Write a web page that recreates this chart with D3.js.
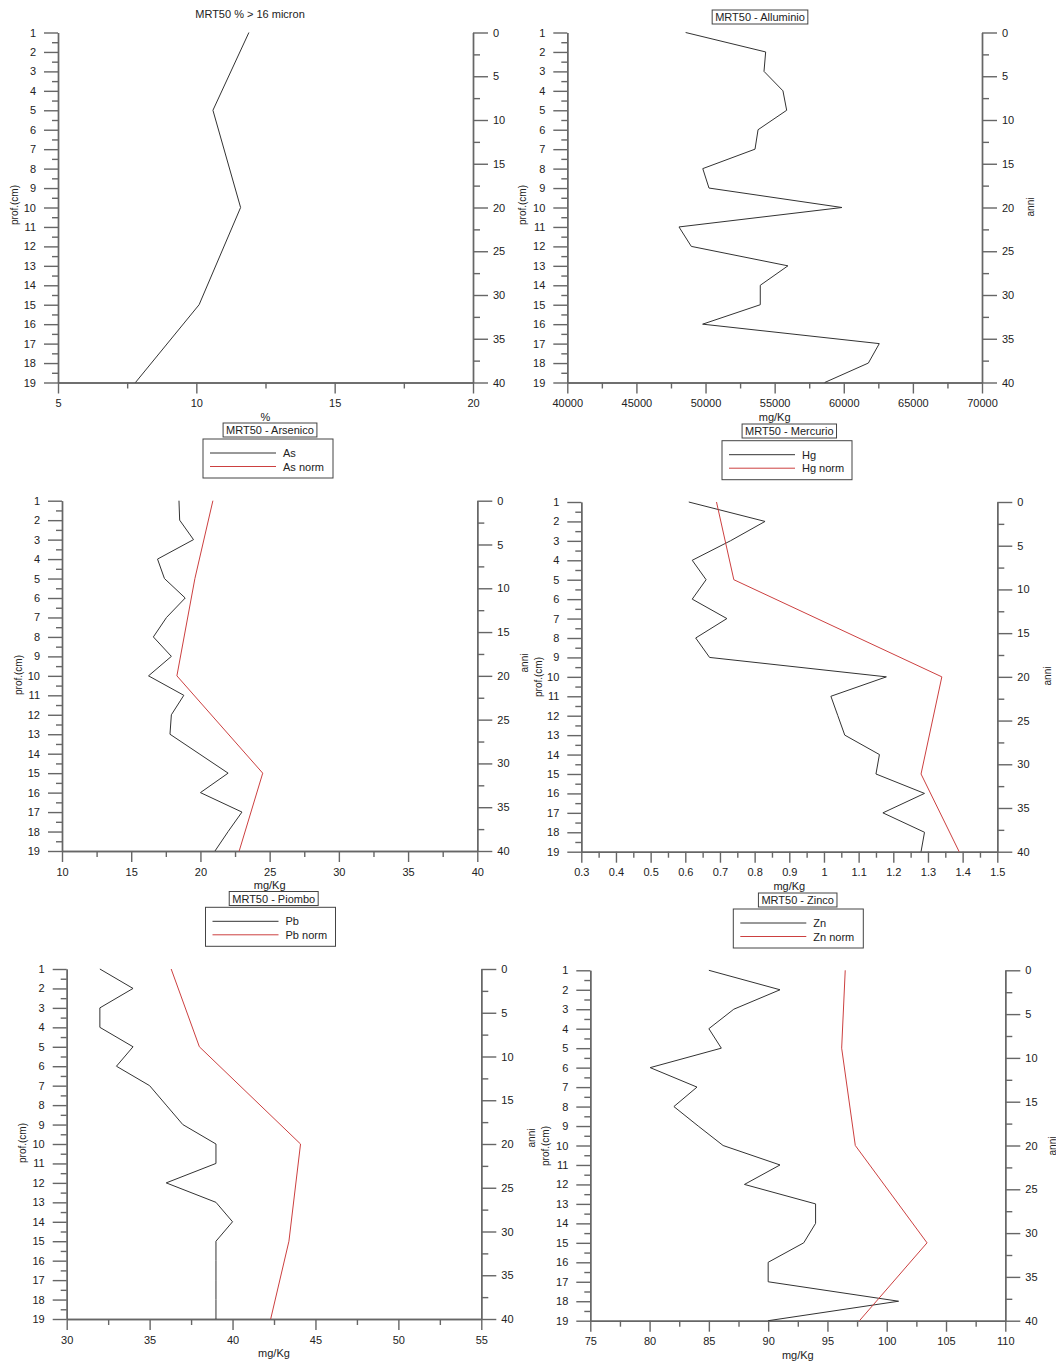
<!DOCTYPE html>
<html><head><meta charset="utf-8">
<script src="https://cdn.jsdelivr.net/npm/d3@7"></script>
<style>body{margin:0;background:#fff}svg{display:block}text{font-family:"Liberation Sans",Arial,sans-serif;fill:#222}</style>
</head><body><svg id="c" width="1056" height="1363"></svg>
<script>
// ---------- data ----------
const depths = [1,2,3,4,5,6,7,8,9,10,11,12,13,14,15,16,17,18,19];
const normDepths = [1,5,10,15,19];
const anniTicks = [0,5,10,15,20,25,30,35,40];

const grainSize = [11.9,10.6,11.6,10.1,7.8];            // % > 16 micron at normDepths
const alluminio = [48560,54350,54230,55600,55870,53800,53580,49800,50250,59870,48080,48970,55960,53960,53960,49790,62570,61780,58620];
const arsenico = [18.45,18.5,19.5,16.9,17.4,18.9,17.55,16.6,17.9,16.25,18.8,17.9,17.8,19.9,22.0,20.0,23.0,22.0,21.05];
const arsenicoNorm = [20.9,19.6,18.3,24.5,22.8];
const mercurio = [0.61,0.83,0.73,0.62,0.66,0.62,0.72,0.63,0.67,1.18,1.02,1.04,1.06,1.16,1.15,1.29,1.17,1.29,1.28];
const mercurioNorm = [0.69,0.74,1.34,1.28,1.39];
const piombo = [32,34,32,32,34,33,35,36,37,39,39,36,39,40,39,39,39,39,39];
const piomboNorm = [36.3,38.0,44.1,43.4,42.3];
const zinco = [85,91,87.1,85,86.05,80.05,84,82.05,84.1,86.2,91,88,94,94,93,90,90,101,90];
const zincoNorm = [96.5,96.2,97.35,103.4,97.7];

const ticksPct = [5,10,15,20];
const ticksAl = [40000,45000,50000,55000,60000,65000,70000];
const ticksAs = [10,15,20,25,30,35,40];
const ticksHg = [0.3,0.4,0.5,0.6,0.7,0.8,0.9,1,1.1,1.2,1.3,1.4,1.5];
const ticksPb = [30,35,40,45,50,55];
const ticksZn = [75,80,85,90,95,100,105,110];

// ---------- panels ----------
const panels = [
  {l:58, r:473, t:32.5, b:382.5, ticks:ticksPct, minor:2.5, xlabel:"%", title:"MRT50 % > 16 micron", boxed:false, tcx:250, ty:14,
   series:[{d:normDepths, v:grainSize, c:"#333"}]},
  {l:567.3, r:982, t:32.5, b:382.5, ticks:ticksAl, minor:2500, xlabel:"mg/Kg", title:"MRT50 - Alluminio", boxed:true, tcx:760, ty:17,
   series:[{d:depths, v:alluminio, c:"#333"}]},
  {l:62, r:477.3, t:500.7, b:851, ticks:ticksAs, minor:2.5, xlabel:"mg/Kg", title:"MRT50 - Arsenico", boxed:true, tcx:270, ty:430,
   legend:{cx:268, y:439, names:["As","As norm"]},
   series:[{d:depths, v:arsenico, c:"#333"},{d:normDepths, v:arsenicoNorm, c:"#cc4040"}]},
  {l:581.3, r:997.3, t:502, b:851.7, ticks:ticksHg, minor:0.05, xlabel:"mg/Kg", title:"MRT50 - Mercurio", boxed:true, tcx:789.3, ty:431,
   legend:{cx:787, y:440.7, names:["Hg","Hg norm"]},
   series:[{d:depths, v:mercurio, c:"#333"},{d:normDepths, v:mercurioNorm, c:"#cc4040"}]},
  {l:66.7, r:481.3, t:969, b:1319, ticks:ticksPb, minor:2.5, xlabel:"mg/Kg", title:"MRT50 - Piombo", boxed:true, tcx:273.7, ty:898.5,
   legend:{cx:270.5, y:907.3, names:["Pb","Pb norm"]},
   series:[{d:depths, v:piombo, c:"#333"},{d:normDepths, v:piomboNorm, c:"#cc4040"}]},
  {l:590.3, r:1005.3, t:970.3, b:1320.7, ticks:ticksZn, minor:2.5, xlabel:"mg/Kg", title:"MRT50 - Zinco", boxed:true, tcx:797.7, ty:900,
   legend:{cx:798.3, y:909, names:["Zn","Zn norm"]},
   series:[{d:depths, v:zinco, c:"#333"},{d:normDepths, v:zincoNorm, c:"#cc4040"}]}
];

const svg = d3.select("#c");
const axisColor = "#666";

function styleAxis(g){
  g.selectAll("path.domain").attr("stroke", axisColor).attr("stroke-width",1.4);
  g.selectAll(".tick line").attr("stroke", axisColor).attr("stroke-width",1.4);
  g.selectAll(".tick text").attr("fill","#222").style("font-family",'"Liberation Sans",Arial,sans-serif').style("font-size","11px");
}

panels.forEach(p => {
  const x = d3.scaleLinear().domain([p.ticks[0], p.ticks[p.ticks.length-1]]).range([p.l, p.r]);
  const y = d3.scaleLinear().domain([depths[0], depths[depths.length-1]]).range([p.t, p.b]);
  const ya = d3.scaleLinear().domain([anniTicks[0], anniTicks[anniTicks.length-1]]).range([p.t, p.b]);
  const g = svg.append("g");

  const depthMinor = depths.slice(0,-1).map(d => d + 0.5);
  const anniMinor = anniTicks.slice(0,-1).map(d => d + 2.5);
  const xMinor = p.ticks.slice(0,-1).map(d => d + p.minor);

  // left axis
  g.append("g").attr("transform",`translate(${p.l},0)`)
    .call(d3.axisLeft(y).tickValues(depthMinor).tickSize(6).tickSizeOuter(0).tickFormat("")).call(styleAxis);
  g.append("g").attr("transform",`translate(${p.l},0)`)
    .call(d3.axisLeft(y).tickValues(depths).tickSize(14).tickPadding(8).tickSizeOuter(0).tickFormat(d3.format("d"))).call(styleAxis);
  // right axis
  g.append("g").attr("transform",`translate(${p.r},0)`)
    .call(d3.axisRight(ya).tickValues(anniMinor).tickSize(7).tickSizeOuter(0).tickFormat("")).call(styleAxis);
  g.append("g").attr("transform",`translate(${p.r},0)`)
    .call(d3.axisRight(ya).tickValues(anniTicks).tickSize(15).tickPadding(5).tickSizeOuter(0).tickFormat(d3.format("d"))).call(styleAxis);
  // bottom axis
  g.append("g").attr("transform",`translate(0,${p.b})`)
    .call(d3.axisBottom(x).tickValues(xMinor).tickSize(6).tickSizeOuter(0).tickFormat("")).call(styleAxis);
  g.append("g").attr("transform",`translate(0,${p.b})`)
    .call(d3.axisBottom(x).tickValues(p.ticks).tickSize(11).tickPadding(6).tickSizeOuter(0).tickFormat(d3.format("~g"))).call(styleAxis);

  // x label
  g.append("text").attr("x",(p.l+p.r)/2).attr("y",p.b+38).attr("text-anchor","middle").style("font-size","11px").text(p.xlabel);

  // title
  const tt = g.append("text").attr("x",p.tcx).attr("y",p.ty).attr("text-anchor","middle")
    .attr("dominant-baseline","central").style("font-size","11px").text(p.title);
  if (p.boxed){
    const bb = tt.node().getBBox();
    g.append("rect").attr("x",bb.x-3).attr("y",bb.y-1).attr("width",bb.width+6).attr("height",bb.height+2)
      .attr("fill","#fff").attr("stroke","#444").attr("stroke-width",1);
    tt.raise();
  }

  // legend
  if (p.legend){
    const lw = 130, lh = 39;
    const lx = p.legend.cx - lw/2, ly = p.legend.y;
    g.append("rect").attr("x",lx).attr("y",ly).attr("width",lw).attr("height",lh)
      .attr("fill","#fff").attr("stroke","#444").attr("stroke-width",1);
    p.legend.names.forEach((n,i) => {
      const yy = ly + 14 + i*13.5;
      g.append("line").attr("x1",lx+7).attr("x2",lx+73).attr("y1",yy).attr("y2",yy)
        .attr("stroke",p.series[i].c).attr("stroke-width",1);
      g.append("text").attr("x",lx+80).attr("y",yy).attr("dominant-baseline","central").style("font-size","11px").text(n);
    });
  }

  // series
  const line = d3.line().x(d => x(d.v)).y(d => y(d.d));
  p.series.forEach(s => {
    const pts = s.d.map((d,i) => ({d:d, v:s.v[i]}));
    g.append("path").datum(pts).attr("d",line).attr("fill","none").attr("stroke",s.c).attr("stroke-width",1);
  });
});

// rotated side labels
const sideLabels = [
  {x:14, y:205, t:"prof.(cm)"},
  {x:522, y:205, t:"prof.(cm)"},
  {x:1030, y:207, t:"anni"},
  {x:18, y:675, t:"prof.(cm)"},
  {x:524, y:663, t:"anni"},
  {x:538, y:677, t:"prof.(cm)"},
  {x:1047, y:676, t:"anni"},
  {x:22, y:1143, t:"prof.(cm)"},
  {x:531, y:1138, t:"anni"},
  {x:545, y:1146, t:"prof.(cm)"},
  {x:1052, y:1146, t:"anni"}
];
sideLabels.forEach(s => {
  svg.append("text").attr("transform",`translate(${s.x},${s.y}) rotate(-90)`)
    .attr("text-anchor","middle").attr("dominant-baseline","central").style("font-size","10px").text(s.t);
});
</script></body></html>
